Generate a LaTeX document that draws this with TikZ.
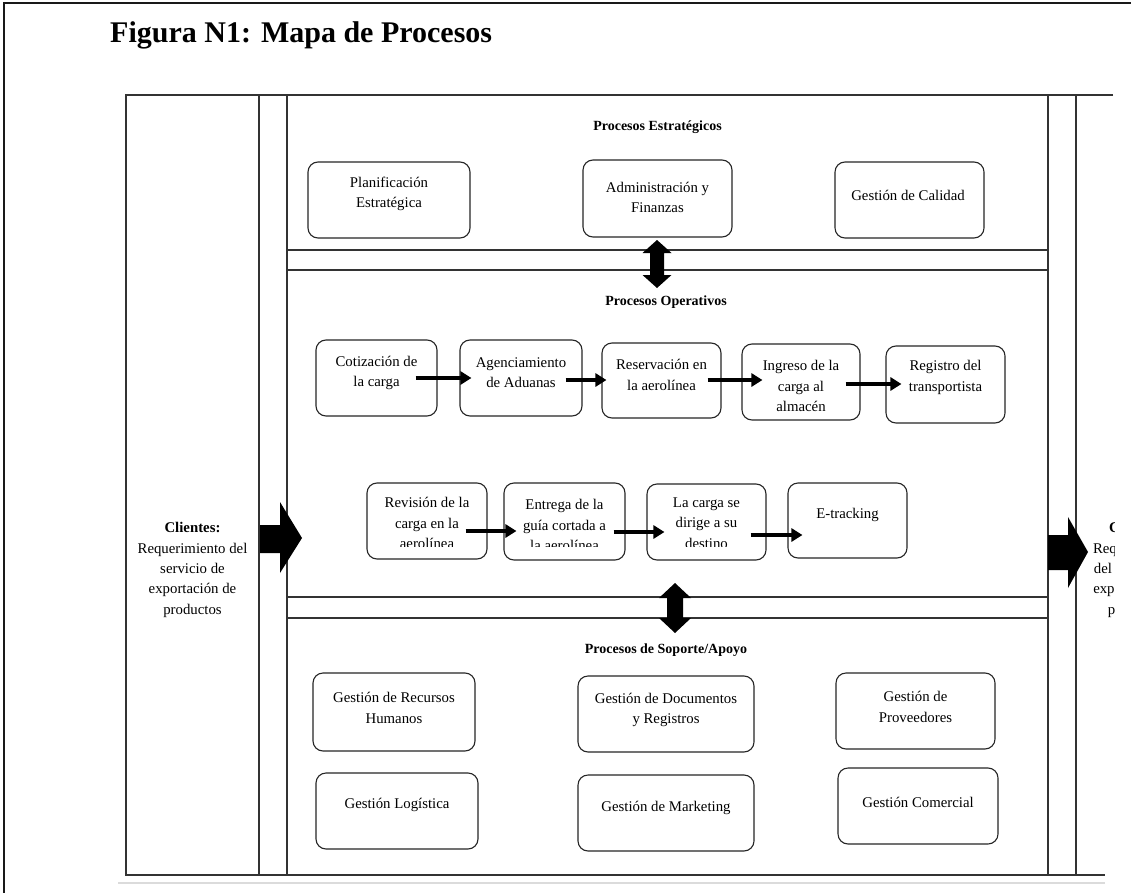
\documentclass[tikz,border=0pt]{standalone}
\usepackage{fontspec}
\setmainfont{Liberation Serif}
\usetikzlibrary{arrows.meta,calc}

\begin{document}
\begin{tikzpicture}[x=1pt,y=-1pt,
  frame/.style={line width=1.3pt, draw=black!80},
  procbox/.style={draw=black!85, line width=1.1pt, rounded corners=10pt, inner sep=0pt},
  label/.style={font=\fontsize{14.8}{20.3}\selectfont, align=center, inner sep=0pt},
  heading/.style={font=\bfseries\fontsize{14}{17}\selectfont, inner sep=0pt},
  flow/.style={line width=4pt, -{Triangle[length=11pt,width=13pt]}},
  block/.style={fill=black}
]
\useasboundingbox (0,0) rectangle (1131,893);
\fill[white] (0,0) rectangle (1131,893);

% page frame of the figure cell
\draw[line width=2pt, black!90] (4,893) -- (4,3) -- (1131,3);

% title
\node[anchor=base west, font=\bfseries\fontsize{30}{36}\selectfont, inner sep=0pt] (title) at (110,43) {Figura N1: Mapa de Procesos};

% outer frame and column dividers
\draw[frame] (1113,95) -- (126,95) -- (126,875) -- (1105,875);
\draw[frame] (259,95) -- (259,875);
\draw[frame] (287,95) -- (287,875);
\draw[frame] (1048,95) -- (1048,875);
\draw[frame] (1076,95) -- (1076,875);
% bands between the process groups
\draw[frame] (287,250) -- (1048,250);
\draw[frame] (287,270) -- (1048,270);
\draw[frame] (287,597) -- (1048,597);
\draw[frame] (287,618) -- (1048,618);
% soft shadow under the chart
\draw[line width=2.5pt, black!14] (118,883) -- (1105,883);

% headings
\node[heading] (hEst) at (657.5,127) {Procesos Estratégicos};
\node[heading] (hOpe) at (666,302) {Procesos Operativos};
\node[heading] (hSop) at (666,650) {Procesos de Soporte/Apoyo};

% strategic processes
\node[procbox, minimum width=162pt, minimum height=76pt] (plan) at (389,200) {};
\node[label] (plan-t) at (389,194) {Planificación\\Estratégica};
\node[procbox, minimum width=149pt, minimum height=77pt] (adm) at (657.5,198.5) {};
\node[label] (adm-t) at (657.5,197.5) {Administración y\\Finanzas};
\node[procbox, minimum width=149pt, minimum height=76pt] (cal) at (909.5,200) {};
\node[label] (cal-t) at (908,195) {Gestión de Calidad};

% operative processes, first row
\node[procbox, minimum width=121pt, minimum height=76pt] (cot) at (376.5,378) {};
\node[label] (cot-t) at (376.5,373) {Cotización de\\la carga};
\node[procbox, minimum width=122pt, minimum height=76pt] (age) at (521,378) {};
\node[label] (age-t) at (521,373) {Agenciamiento\\de Aduanas};
\node[procbox, minimum width=119pt, minimum height=75pt] (res) at (661.5,380.5) {};
\node[label] (res-t) at (661.5,375) {Reservación en\\la aerolínea};
\node[procbox, minimum width=118pt, minimum height=76pt] (ing) at (801,382) {};
\node[label] (ing-t) at (801,386) {Ingreso de la\\carga al\\almacén};
\node[procbox, minimum width=119pt, minimum height=77pt] (reg) at (945.5,384.5) {};
\node[label] (reg-t) at (945.5,377.5) {Registro del\\transportista};

% operative processes, second row
\node[procbox, minimum width=120pt, minimum height=76pt] (rev) at (427,521) {};
\node[procbox, minimum width=121pt, minimum height=77pt] (ent) at (564.5,521.5) {};
\node[procbox, minimum width=119pt, minimum height=76pt] (car) at (706.5,522) {};
\node[procbox, minimum width=119pt, minimum height=75pt] (etr) at (847.5,520.5) {};
\begin{scope}
  \clip (300,470) rectangle (1000,546);
  \node[label] (rev-t) at (427,523) {Revisión de la\\carga en la\\aerolínea};
  \node[label] (ent-t) at (564.5,525) {Entrega de la\\guía cortada a\\la aerolínea};
  \node[label] (car-t) at (706.5,523) {La carga se\\dirige a su\\destino};
\end{scope}
\node[label] (etr-t) at (847.5,515) {E-tracking};

% flow arrows
\draw[flow] ($(cot.east)+(-22,0)$) -- ($(age.west)+(12,0)$);
\draw[flow] ($(age.east)+(-17,2)$) -- ($(res.west)+(5,-0.5)$);
\draw[flow] ($(res.east)+(-14,-0.5)$) -- ($(ing.west)+(21,-2)$);
\draw[flow] ($(ing.east)+(-15,2)$) -- ($(reg.west)+(16,-0.5)$);
\draw[flow] ($(rev.east)+(-22,10)$) -- ($(ent.west)+(13,9.5)$);
\draw[flow] ($(ent.east)+(-12,10.5)$) -- ($(car.west)+(18,10)$);
\draw[flow] ($(car.east)+(-16,13)$) -- ($(etr.west)+(15,14.5)$);

% support processes
\node[procbox, minimum width=162pt, minimum height=78pt] (rrhh) at (394,712) {};
\node[label] (rrhh-t) at (394,708) {Gestión de Recursos\\Humanos};
\node[procbox, minimum width=162pt, minimum height=76pt] (log) at (397,811) {};
\node[label] (log-t) at (397,805) {Gestión Logística};
\node[procbox, minimum width=176pt, minimum height=76pt] (doc) at (666,714) {};
\node[label] (doc-t) at (666,710) {Gestión de Documentos\\y Registros};
\node[procbox, minimum width=176pt, minimum height=76pt] (mkt) at (666,813) {};
\node[label] (mkt-t) at (666,808) {Gestión de Marketing};
\node[procbox, minimum width=159pt, minimum height=76pt] (prov) at (915.5,711) {};
\node[label] (prov-t) at (915.5,707) {Gestión de\\Proveedores};
\node[procbox, minimum width=160pt, minimum height=76pt] (com) at (918,806) {};
\node[label] (com-t) at (918,802) {Gestión Comercial};

% double arrows between the groups
\fill[block] (657,240) -- (671.5,253) -- (664,253) -- (664,275) -- (671.5,275) -- (657,288)
  -- (642.5,275) -- (650,275) -- (650,253) -- (642.5,253) -- cycle;
\fill[block] (675,583) -- (691,598) -- (683,598) -- (683,618) -- (691,618) -- (675,633)
  -- (659,618) -- (667,618) -- (667,598) -- (659,598) -- cycle;

% clients: input and output
\node[label] (inL) at (192.5,570) {\textbf{Clientes:}\\Requerimiento del\\servicio de\\exportación de\\productos};
\fill[block] (260,525) -- (280,525) -- (280,502) -- (302,538) -- (280,573) -- (280,553) -- (260,553) -- cycle;
\fill[block] (1048,535) -- (1068,535) -- (1068,517) -- (1088,552) -- (1068,588) -- (1068,570) -- (1048,570) -- cycle;
\begin{scope}
  \clip (1077,96) rectangle (1114,874);
  \node[label] (outR) at (1137,570) {\textbf{Clientes:}\\Requerimiento\\del servicio de\\exportación de\\productos};
\end{scope}
\end{tikzpicture}
\end{document}
